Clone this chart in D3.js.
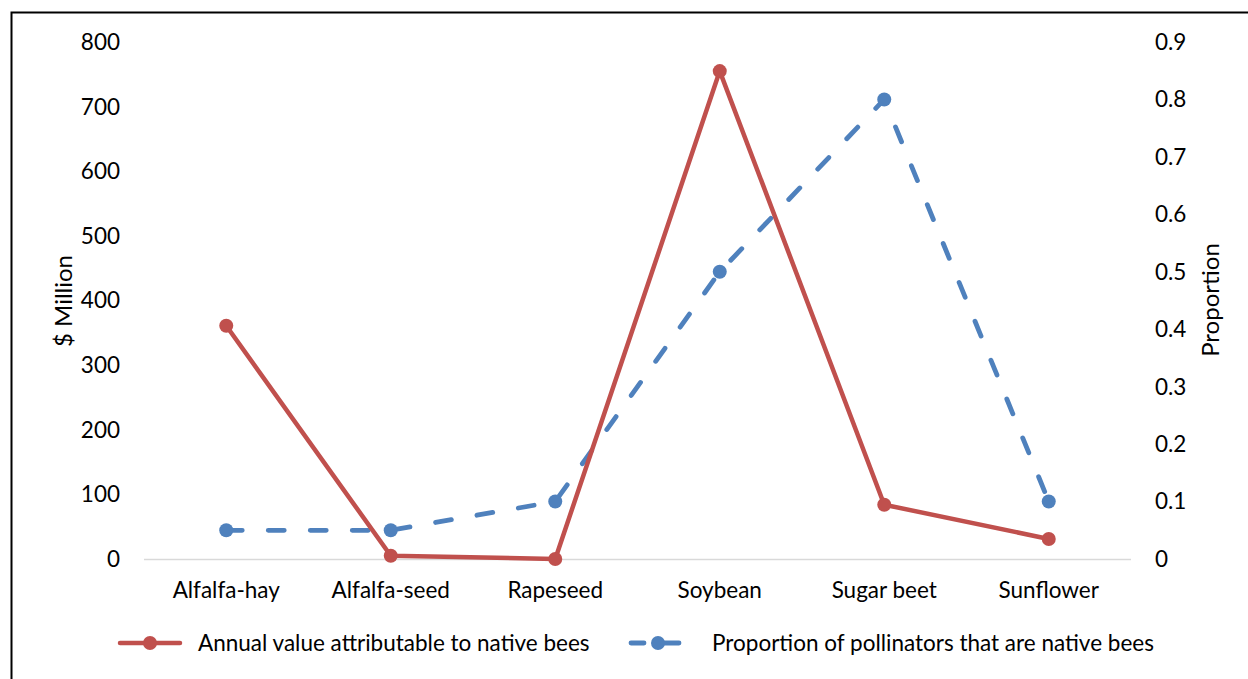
<!DOCTYPE html>
<html>
<head>
<meta charset="utf-8">
<script src="https://cdn.jsdelivr.net/npm/d3@7"></script>
<style>
  body { margin: 0; background: #fff; }
  svg { display: block; font-family: Lato, "Liberation Sans", sans-serif; }
</style>
</head>
<body>
<svg id="vis" width="1248" height="679"></svg>
<script>
// chart data
const crops = ["Alfalfa-hay", "Alfalfa-seed", "Rapeseed", "Soybean", "Sugar beet", "Sunflower"];
const annualValue = [361, 5, 0, 755, 84, 31];
const nativeShare = [0.05, 0.05, 0.1, 0.5, 0.8, 0.1];
const leftTicks = [0, 100, 200, 300, 400, 500, 600, 700, 800];
const rightTicks = [0, 0.1, 0.2, 0.3, 0.4, 0.5, 0.6, 0.7, 0.8, 0.9];
const seriesNames = ["Annual value attributable to native bees", "Proportion of pollinators that are native bees"];

const RED = "#C0504D";
const BLUE = "#4F81BD";
const FS = 22.5;

const svg = d3.select('#vis');

// outer frame
svg.append("path")
    .attr("d", "M11.5,679 L11.5,12.5 L1248,12.5")
    .attr("fill", "none")
    .attr("stroke", "#000")
    .attr("stroke-width", 2);

const x = d3.scaleBand()
    .domain(crops)
    .range([144, 1131]);

const yLeft = d3.scaleLinear()
    .domain([0, 800])
    .range([559, 42]);

const yRight = d3.scaleLinear()
    .domain([0, 0.9])
    .range([559, 42]);

// baseline
svg.append("line")
    .attr("x1", 144).attr("x2", 1131)
    .attr("y1", 559.5).attr("y2", 559.5)
    .attr("stroke", "#d9d9d9")
    .attr("stroke-width", 1.5);

// left axis labels
svg.selectAll(".ltick")
    .data(leftTicks)
    .enter().append("text")
    .attr("class", "ltick")
    .attr("x", 120)
    .attr("y", function (d) { return yLeft(d); })
    .attr("dy", ".35em")
    .attr("text-anchor", "end")
    .attr("font-size", FS)
    .attr("fill", "#000")
    .text(function (d) { return d; });

// right axis labels
svg.selectAll(".rtick")
    .data(rightTicks)
    .enter().append("text")
    .attr("class", "rtick")
    .attr("x", 1155)
    .attr("y", function (d) { return yRight(d); })
    .attr("dy", ".35em")
    .attr("font-size", FS)
    .attr("fill", "#000")
    .text(function (d) { return d === 0 ? "0" : d3.format(".1f")(d); });

// category labels
svg.selectAll(".xlab")
    .data(crops)
    .enter().append("text")
    .attr("class", "xlab")
    .attr("x", function (d) { return x(d) + x.bandwidth() / 2; })
    .attr("y", 598)
    .attr("text-anchor", "middle")
    .attr("font-size", FS)
    .text(function (d) { return d; });

// axis titles
svg.append("text")
    .attr("transform", "translate(72,301) rotate(-90)")
    .attr("text-anchor", "middle")
    .attr("font-size", 24)
    .text("$ Million");

svg.append("text")
    .attr("transform", "translate(1219,300) rotate(-90)")
    .attr("text-anchor", "middle")
    .attr("font-size", 24)
    .text("Proportion");

const cx = function (d, i) { return x(crops[i]) + x.bandwidth() / 2; };

// proportion series (dashed, right axis)
const blueLine = d3.line()
    .x(cx)
    .y(function (d) { return yRight(d); });

svg.append("path")
    .datum(nativeShare)
    .attr("d", blueLine)
    .attr("fill", "none")
    .attr("stroke", BLUE)
    .attr("stroke-width", 4.8)
    .attr("stroke-linecap", "round")
    .attr("stroke-dasharray", "16,26");

// value series (solid, left axis)
const redLine = d3.line()
    .x(cx)
    .y(function (d) { return yLeft(d); });

svg.append("path")
    .datum(annualValue)
    .attr("d", redLine)
    .attr("fill", "none")
    .attr("stroke", RED)
    .attr("stroke-width", 4.5)
    .attr("stroke-linejoin", "round");

svg.selectAll(".bdot")
    .data(nativeShare)
    .enter().append("circle")
    .attr("class", "bdot")
    .attr("cx", cx)
    .attr("cy", function (d) { return yRight(d); })
    .attr("r", 7)
    .attr("fill", BLUE);

svg.selectAll(".rdot")
    .data(annualValue)
    .enter().append("circle")
    .attr("class", "rdot")
    .attr("cx", cx)
    .attr("cy", function (d) { return yLeft(d); })
    .attr("r", 7)
    .attr("fill", RED);

// legend
const legend = svg.append("g").attr("class", "legend");

legend.append("line")
    .attr("x1", 120).attr("x2", 180)
    .attr("y1", 643).attr("y2", 643)
    .attr("stroke", RED).attr("stroke-width", 4.5)
    .attr("stroke-linecap", "round");
legend.append("circle")
    .attr("cx", 150).attr("cy", 643).attr("r", 7).attr("fill", RED);
legend.append("text")
    .attr("x", 198).attr("y", 643).attr("dy", ".35em")
    .attr("font-size", FS)
    .text(seriesNames[0]);

legend.selectAll(".bseg")
    .data([[631, 644], [662, 679]])
    .enter().append("line")
    .attr("class", "bseg")
    .attr("x1", function (d) { return d[0]; })
    .attr("x2", function (d) { return d[1]; })
    .attr("y1", 643).attr("y2", 643)
    .attr("stroke", BLUE).attr("stroke-width", 4.8)
    .attr("stroke-linecap", "round");
legend.append("circle")
    .attr("cx", 658).attr("cy", 643).attr("r", 7).attr("fill", BLUE);
legend.append("text")
    .attr("x", 712).attr("y", 643).attr("dy", ".35em")
    .attr("font-size", FS)
    .text(seriesNames[1]);
</script>
</body>
</html>
